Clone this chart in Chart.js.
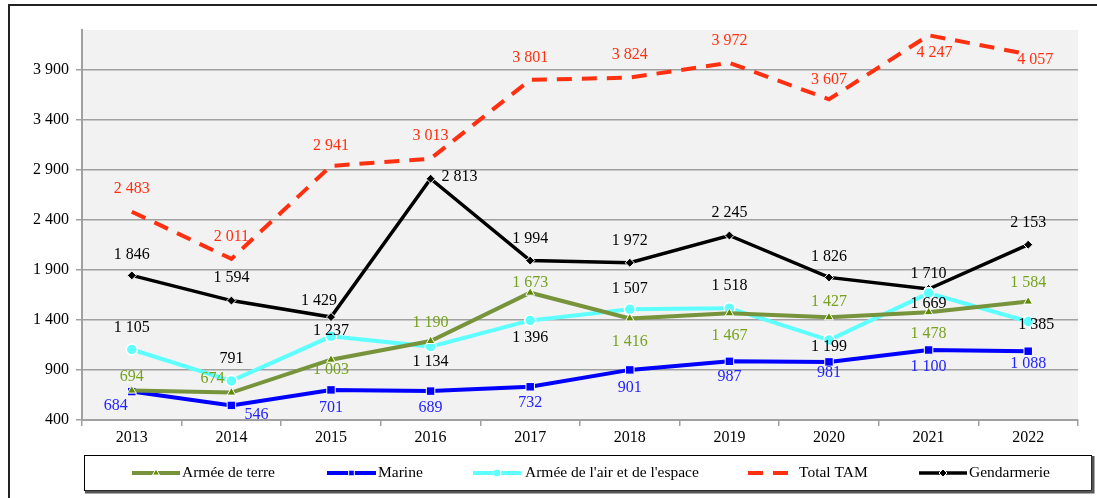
<!DOCTYPE html>
<html><head><meta charset="utf-8">
<script src="https://cdn.jsdelivr.net/npm/chart.js@4/dist/chart.umd.min.js"></script>
<style>html,body{margin:0;padding:0;background:#fff;}#wrap{width:1097px;height:498px;position:relative;}</style>
</head><body><div id="wrap"><canvas id="c" width="1097" height="498"></canvas></div>
<script>
const years = ['2013','2014','2015','2016','2017','2018','2019','2020','2021','2022'];
const armeeTerre = [694, 674, 1003, 1190, 1673, 1416, 1467, 1427, 1478, 1584];
const marine = [684, 546, 701, 689, 732, 901, 987, 981, 1100, 1088];
const armeeAir = [1105, 791, 1237, 1134, 1396, 1507, 1518, 1199, 1669, 1385];
const totalTAM = [2483, 2011, 2941, 3013, 3801, 3824, 3972, 3607, 4247, 4057];
const gendarmerie = [1846, 1594, 1429, 2813, 1994, 1972, 2245, 1826, 1710, 2153];
const yTicks = [400, 900, 1400, 1900, 2400, 2900, 3400, 3900];
const seriesNames = ['Armée de terre', 'Marine', "Armée de l'air et de l'espace", 'Total TAM', 'Gendarmerie'];

const fmt = v => { const s = String(v); return s.length > 3 ? s.slice(0, s.length-3) + ' ' + s.slice(-3) : s; };
const FONT = '"Liberation Serif", "Times New Roman", serif';

const labelPlugin = {
  id: 'vlabels',
  afterDatasetsDraw(chart) {
    const ctx = chart.ctx;
    ctx.save();
    ctx.font = '16px ' + FONT;
    ctx.textAlign = 'center';
    ctx.textBaseline = 'middle';
    chart.data.datasets.forEach((ds, i) => {
      const meta = chart.getDatasetMeta(i);
      meta.data.forEach((pt, j) => {
        const off = ds.labelOffsets[j];
        ctx.fillStyle = ds.labelColor;
        ctx.fillText(fmt(ds.data[j]), pt.x + off[0], pt.y + off[1]);
      });
    });
    ctx.restore();
  }
};

const bgPlugin = {
  id: 'bg',
  beforeDraw(chart) {
    const {ctx, chartArea: a} = chart;
    ctx.save();
    ctx.fillStyle = '#fff';
    ctx.fillRect(0, 0, chart.width, chart.height);
    ctx.fillStyle = '#f2f2f2';
    ctx.fillRect(a.left, a.top, a.right - a.left, a.bottom - a.top);
    ctx.strokeStyle = '#222';
    ctx.lineWidth = 2;
    ctx.beginPath();
    ctx.moveTo(9, 498); ctx.lineTo(9, 5); ctx.lineTo(1097, 5);
    ctx.stroke();
    ctx.restore();
  }
};

const legendPlugin = {
  id: 'customLegend',
  afterDraw(chart) {
    const ctx = chart.ctx;
    ctx.save();
    ctx.strokeStyle = '#000'; ctx.lineWidth = 1;
    ctx.strokeRect(84.5, 455.5, 1007, 35);
    ctx.strokeStyle = '#555'; ctx.lineWidth = 3;
    ctx.beginPath(); ctx.moveTo(85, 492); ctx.lineTo(1093, 492); ctx.lineTo(1093, 456); ctx.stroke();
    const items = [[132, 180, 182], [327, 376, 378], [473, 521, 525], [748, 794, 799], [919, 967, 969]];
    const y = 473;
    chart.data.datasets.forEach((ds, i) => {
      const [x0, x1, tx] = items[i];
      ctx.strokeStyle = ds.borderColor;
      ctx.lineWidth = ds.borderWidth;
      ctx.setLineDash(ds.borderDash || []);
      ctx.beginPath(); ctx.moveTo(x0, y); ctx.lineTo(x1, y); ctx.stroke();
      ctx.setLineDash([]);
      if (ds.pointRadius > 0) {
        ctx.fillStyle = ds.pointBackgroundColor;
        ctx.strokeStyle = ds.pointBorderColor;
        ctx.lineWidth = 1;
        Chart.helpers.drawPoint(ctx, {pointStyle: ds.pointStyle, radius: Math.min(ds.pointRadius, 4), borderWidth: 1}, (x0 + x1) / 2, y);
      }
      ctx.fillStyle = '#000';
      ctx.font = '15.5px ' + FONT;
      ctx.textAlign = 'left'; ctx.textBaseline = 'middle';
      ctx.fillText(seriesNames[i], tx, y);
    });
    ctx.restore();
  }
};

const mk = (name, data, color, lblColor, extra, offsets) => Object.assign({
  label: name, data, borderColor: color, backgroundColor: color, borderWidth: 4,
  pointBackgroundColor: color, pointBorderColor: '#fff', pointBorderWidth: 1,
  labelColor: lblColor, labelOffsets: offsets, tension: 0
}, extra);

const datasets = [
  mk(seriesNames[0], armeeTerre, '#77933c', '#76a21e', {pointStyle: 'triangle', pointRadius: 5, pointBackgroundColor: '#5f8a00'},
     [[0,-14],[-19,-14],[0,10],[0,-18],[0,-10],[0,23],[0,22],[0,-16],[0,22],[0,-19]]),
  mk(seriesNames[1], marine, '#0000ff', '#2222ff', {pointStyle: 'rect', pointRadius: 6},
     [[-16,14],[25,9],[0,18],[0,17],[0,16],[0,18],[0,15],[0,11],[0,17],[0,13]]),
  mk(seriesNames[2], armeeAir, '#5effff', '#000', {pointStyle: 'circle', pointRadius: 5.5, pointBorderWidth: 1.5},
     [[0,-22],[0,-22],[0,-6],[0,15],[0,17],[0,-21],[0,-22],[0,7],[0,11],[8,3]]),
  mk(seriesNames[3], totalTAM, '#ff3010', '#ff3010', {pointRadius: 0, borderDash: [15, 10], borderCapStyle: 'butt'},
     [[0,-23],[0,-22],[0,-20],[0,-23],[0,-22],[0,-23],[0,-22],[0,-20],[6,17],[7,5]]),
  mk(seriesNames[4], gendarmerie, '#000000', '#000', {pointStyle: 'rectRot', pointRadius: 4.5, borderWidth: 3.5},
     [[0,-21],[0,-23],[-12,-16],[29,-2],[0,-22],[0,-22],[0,-23],[0,-21],[0,-15],[0,-22]])
];

new Chart(document.getElementById('c'), {
  type: 'line',
  data: {labels: years, datasets},
  options: {
    responsive: false, animation: false, devicePixelRatio: 1,
    layout: {padding: {left: 0, top: 30, right: 19, bottom: 0}},
    plugins: {legend: {display: false}, tooltip: {enabled: false}},
    scales: {
      x: {
        offset: true,
        grid: {offset: true, drawOnChartArea: false, drawTicks: true, tickLength: 6, color: '#a0a0a0', lineWidth: 1.5},
        border: {color: '#a0a0a0', width: 2},
        ticks: {color: '#000', font: {family: FONT, size: 16}, padding: 2, maxRotation: 0},
        afterFit(s) { s.height = 78; }
      },
      y: {
        min: 400, max: 4300,
        grid: {color: '#a0a0a0', lineWidth: 1.5, tickLength: 6},
        border: {color: '#a0a0a0', width: 2},
        ticks: {stepSize: 500, color: '#000', font: {family: FONT, size: 16}, padding: 7, callback: v => fmt(v)},
        afterBuildTicks(s) { s.ticks = yTicks.map(v => ({value: v})); },
        afterFit(s) { s.width = 82; }
      }
    }
  },
  plugins: [bgPlugin, labelPlugin, legendPlugin]
});
</script></body></html>
